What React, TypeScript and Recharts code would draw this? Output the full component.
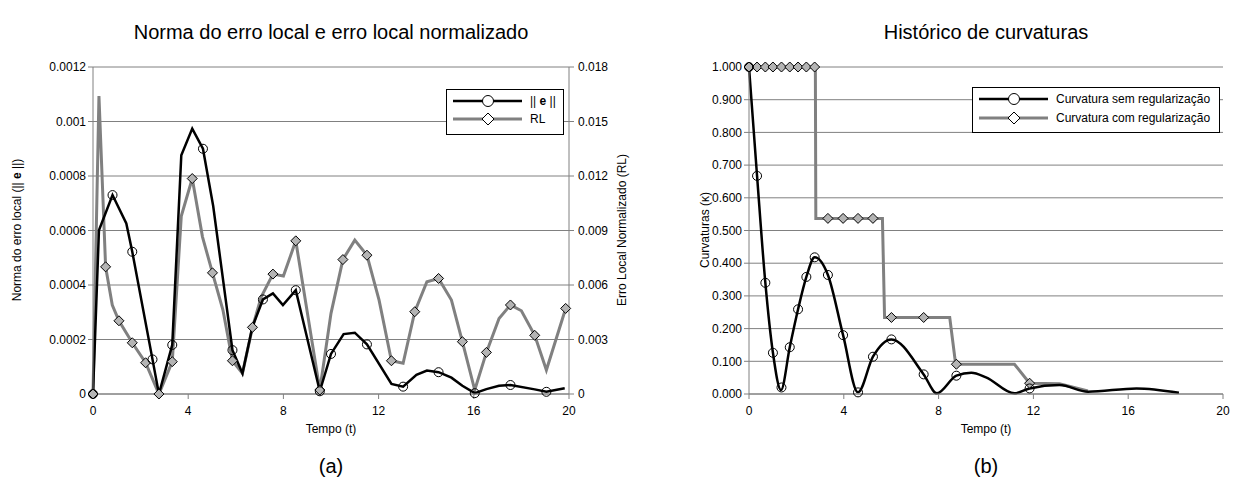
import { CartesianGrid, ComposedChart, Line, XAxis, YAxis } from 'recharts'

const FONT = '"Liberation Sans", Arial, sans-serif'
const AXIS = '#808080'

const timeTicks = [0, 4, 8, 12, 16, 20]
const normTicks = [0, 0.0002, 0.0004, 0.0006, 0.0008, 0.001, 0.0012]
const rlTicks = [0, 0.003, 0.006, 0.009, 0.012, 0.015, 0.018]
const curvTicks = [0, 0.1, 0.2, 0.3, 0.4, 0.5, 0.6, 0.7, 0.8, 0.9, 1]

// ||e|| (left axis)
const normLine = [
  { t: 0, v: 0 }, { t: 0.25, v: 0.000601 }, { t: 0.82, v: 0.00073 }, { t: 1.4, v: 0.000626 },
  { t: 1.65, v: 0.000522 }, { t: 2.5, v: 0.000127 }, { t: 2.77, v: 0 }, { t: 3.33, v: 0.00018 },
  { t: 3.71, v: 0.000876 }, { t: 4.17, v: 0.000974 }, { t: 4.62, v: 0.0009 }, { t: 5.05, v: 0.00069 },
  { t: 5.86, v: 0.000161 }, { t: 6.28, v: 0.000076 }, { t: 6.7, v: 0.000247 }, { t: 7.14, v: 0.000347 },
  { t: 7.56, v: 0.000369 }, { t: 7.98, v: 0.000326 }, { t: 8.52, v: 0.000381 }, { t: 9.53, v: 0.00001 },
  { t: 10.0, v: 0.000147 }, { t: 10.53, v: 0.00022 }, { t: 11.0, v: 0.000225 }, { t: 11.51, v: 0.000182 },
  { t: 12.54, v: 0.000037 }, { t: 13.03, v: 0.000027 }, { t: 13.59, v: 0.00007 }, { t: 14.03, v: 0.000086 },
  { t: 14.52, v: 0.00008 }, { t: 15.06, v: 0.00006 }, { t: 15.52, v: 0.00003 }, { t: 16.04, v: 0.000003 },
  { t: 16.53, v: 0.000018 }, { t: 17.06, v: 0.00003 }, { t: 17.54, v: 0.000033 }, { t: 18.56, v: 0.000017 },
  { t: 19.05, v: 0.000008 }, { t: 19.82, v: 0.000021 },
]
const normMarks = [
  { t: 0, v: 0 }, { t: 0.82, v: 0.00073 }, { t: 1.65, v: 0.000522 }, { t: 2.5, v: 0.000127 },
  { t: 3.33, v: 0.00018 }, { t: 4.62, v: 0.0009 }, { t: 5.86, v: 0.000161 }, { t: 7.14, v: 0.000347 },
  { t: 8.52, v: 0.000381 }, { t: 9.53, v: 0.00001 }, { t: 10.0, v: 0.000147 }, { t: 11.51, v: 0.000182 },
  { t: 13.03, v: 0.000027 }, { t: 14.52, v: 0.00008 }, { t: 16.04, v: 0.000003 }, { t: 17.54, v: 0.000033 },
  { t: 19.05, v: 0.000008 },
]

// RL (right axis)
const rlLine = [
  { t: 0, v: 0 }, { t: 0.25, v: 0.0164 }, { t: 0.53, v: 0.007 }, { t: 0.81, v: 0.0049 },
  { t: 1.09, v: 0.00403 }, { t: 1.65, v: 0.00282 }, { t: 2.21, v: 0.00172 }, { t: 2.77, v: 0 },
  { t: 3.33, v: 0.00178 }, { t: 3.71, v: 0.0098 }, { t: 4.17, v: 0.01186 }, { t: 4.6, v: 0.00865 },
  { t: 5.02, v: 0.00667 }, { t: 5.46, v: 0.00462 }, { t: 5.86, v: 0.00183 }, { t: 6.28, v: 0.00114 },
  { t: 6.7, v: 0.00367 }, { t: 7.07, v: 0.00535 }, { t: 7.56, v: 0.0066 }, { t: 8.0, v: 0.00649 },
  { t: 8.52, v: 0.00843 }, { t: 9.53, v: 0.00022 }, { t: 10.0, v: 0.00444 }, { t: 10.5, v: 0.0074 },
  { t: 11.0, v: 0.00847 }, { t: 11.51, v: 0.00764 }, { t: 12.02, v: 0.00517 }, { t: 12.54, v: 0.00183 },
  { t: 13.03, v: 0.00169 }, { t: 13.52, v: 0.00453 }, { t: 14.03, v: 0.00618 }, { t: 14.52, v: 0.00636 },
  { t: 15.06, v: 0.00517 }, { t: 15.52, v: 0.00288 }, { t: 16.04, v: 0.00022 }, { t: 16.53, v: 0.00229 },
  { t: 17.06, v: 0.00416 }, { t: 17.54, v: 0.0049 }, { t: 18.0, v: 0.00458 }, { t: 18.56, v: 0.00323 },
  { t: 19.05, v: 0.00132 }, { t: 19.86, v: 0.00471 },
]
const rlMarks = [
  { t: 0, v: 0 }, { t: 0.53, v: 0.007 }, { t: 1.09, v: 0.00403 }, { t: 1.65, v: 0.00282 },
  { t: 2.21, v: 0.00172 }, { t: 2.77, v: 0 }, { t: 3.33, v: 0.00178 }, { t: 4.17, v: 0.01186 },
  { t: 5.02, v: 0.00667 }, { t: 5.86, v: 0.00183 }, { t: 6.7, v: 0.00367 }, { t: 7.56, v: 0.0066 },
  { t: 8.52, v: 0.00843 }, { t: 9.53, v: 0.00022 }, { t: 10.5, v: 0.0074 }, { t: 11.51, v: 0.00764 },
  { t: 12.54, v: 0.00183 }, { t: 13.52, v: 0.00453 }, { t: 14.52, v: 0.00636 }, { t: 15.52, v: 0.00288 },
  { t: 16.53, v: 0.00229 }, { t: 17.54, v: 0.0049 }, { t: 18.56, v: 0.00323 }, { t: 19.86, v: 0.00471 },
]

// curvatura sem regularização
const curvNoReg = [
  { t: 0, v: 1 }, { t: 0.34, v: 0.667 }, { t: 0.69, v: 0.34 }, { t: 1.01, v: 0.126 },
  { t: 1.35, v: 0.012 }, { t: 1.72, v: 0.143 }, { t: 2.07, v: 0.259 }, { t: 2.42, v: 0.358 },
  { t: 2.77, v: 0.418 }, { t: 3.33, v: 0.364 }, { t: 3.97, v: 0.18 }, { t: 4.6, v: 0.005 },
  { t: 5.23, v: 0.114 }, { t: 6.01, v: 0.167 }, { t: 7.37, v: 0.06 }, { t: 7.93, v: 0.002 },
  { t: 8.75, v: 0.056 }, { t: 9.38, v: 0.065 }, { t: 10.0, v: 0.051 }, { t: 11.2, v: 0.002 },
  { t: 11.84, v: 0.017 }, { t: 13.1, v: 0.0275 }, { t: 14.3, v: 0.007 }, { t: 16.35, v: 0.017 },
  { t: 18.14, v: 0.004 },
]
const curvNoRegMarks = [
  { t: 0, v: 1 }, { t: 0.34, v: 0.667 }, { t: 0.69, v: 0.34 }, { t: 1.01, v: 0.126 },
  { t: 1.37, v: 0.02 }, { t: 1.72, v: 0.143 }, { t: 2.07, v: 0.259 }, { t: 2.42, v: 0.358 },
  { t: 2.77, v: 0.418 }, { t: 3.33, v: 0.364 }, { t: 3.97, v: 0.18 }, { t: 4.6, v: 0.005 },
  { t: 5.23, v: 0.114 }, { t: 6.01, v: 0.167 }, { t: 7.37, v: 0.06 }, { t: 8.75, v: 0.056 },
  { t: 11.84, v: 0.017 },
]

// curvatura com regularização
const curvReg = [
  { t: 0, v: 1 }, { t: 2.8, v: 1 }, { t: 2.82, v: 0.537 }, { t: 5.63, v: 0.537 },
  { t: 5.72, v: 0.234 }, { t: 8.47, v: 0.234 }, { t: 8.72, v: 0.091 }, { t: 11.2, v: 0.091 },
  { t: 11.84, v: 0.033 }, { t: 13.1, v: 0.031 }, { t: 14.3, v: 0.009 },
]
const curvRegMarks = [
  { t: 0, v: 1 }, { t: 0.34, v: 1 }, { t: 0.69, v: 1 }, { t: 1.01, v: 1 }, { t: 1.37, v: 1 },
  { t: 1.72, v: 1 }, { t: 2.07, v: 1 }, { t: 2.42, v: 1 }, { t: 2.77, v: 1 },
  { t: 3.33, v: 0.537 }, { t: 3.97, v: 0.537 }, { t: 4.6, v: 0.537 }, { t: 5.23, v: 0.537 },
  { t: 6.01, v: 0.234 }, { t: 7.37, v: 0.234 }, { t: 8.75, v: 0.091 }, { t: 11.84, v: 0.033 },
]

const circleDot = (p: any) =>
  p.cx == null ? <g key={`c${p.index}`} /> : (
    <circle key={`c${p.index}`} cx={p.cx} cy={p.cy} r={4.5} fill="none" stroke="#000" strokeWidth={1} />
  )

const diamondDot = (p: any) =>
  p.cx == null ? <g key={`d${p.index}`} /> : (
    <path
      key={`d${p.index}`}
      d={`M${p.cx},${p.cy - 5}L${p.cx + 5},${p.cy}L${p.cx},${p.cy + 5}L${p.cx - 5},${p.cy}Z`}
      fill="#b4b4b4"
      stroke="#000"
      strokeWidth={1}
    />
  )

const tickStyle = { fontSize: 12, fill: '#000', fontFamily: FONT }

function NormChart() {
  return (
    <ComposedChart width={640} height={482} margin={{ top: 67, right: 0, bottom: 58, left: 0 }}>
      <CartesianGrid yAxisId="left" vertical={false} stroke={AXIS} strokeWidth={1} />
      <XAxis
        type="number"
        dataKey="t"
        domain={[0, 20]}
        ticks={timeTicks}
        interval={0}
        tick={tickStyle}
        tickSize={5}
        tickMargin={7}
        stroke={AXIS}
        height={30}
      />
      <YAxis
        yAxisId="left"
        domain={[0, 0.0012]}
        ticks={normTicks}
        interval={0}
        width={93}
        tick={tickStyle}
        tickSize={5}
        tickMargin={2}
        stroke={AXIS}
        tickFormatter={(v) => String(v)}
      />
      <YAxis
        yAxisId="right"
        orientation="right"
        domain={[0, 0.018]}
        ticks={rlTicks}
        interval={0}
        width={71}
        tick={tickStyle}
        tickSize={5}
        tickMargin={4}
        stroke={AXIS}
        tickFormatter={(v) => String(v)}
      />
      <Line yAxisId="right" data={rlLine} dataKey="v" type="linear" stroke="#808080" strokeWidth={3} dot={false} activeDot={false} isAnimationActive={false} />
      <Line yAxisId="left" data={normLine} dataKey="v" type="linear" stroke="#000" strokeWidth={2.5} dot={false} activeDot={false} isAnimationActive={false} />
      <Line yAxisId="right" data={rlMarks} dataKey="v" stroke="none" dot={diamondDot} activeDot={false} isAnimationActive={false} />
      <Line yAxisId="left" data={normMarks} dataKey="v" stroke="none" dot={circleDot} activeDot={false} isAnimationActive={false} />
    </ComposedChart>
  )
}

function CurvChart() {
  return (
    <ComposedChart width={593} height={482} margin={{ top: 67, right: 10, bottom: 58, left: 0 }}>
      <CartesianGrid vertical={false} stroke={AXIS} strokeWidth={1} />
      <XAxis
        type="number"
        dataKey="t"
        domain={[0, 20]}
        ticks={timeTicks}
        interval={0}
        tick={tickStyle}
        tickSize={5}
        tickMargin={7}
        stroke={AXIS}
        height={30}
      />
      <YAxis
        domain={[0, 1]}
        ticks={curvTicks}
        interval={0}
        width={109}
        tick={tickStyle}
        tickSize={5}
        tickMargin={2}
        stroke={AXIS}
        tickFormatter={(v) => Number(v).toFixed(3)}
      />
      <Line data={curvReg} dataKey="v" type="linear" stroke="#808080" strokeWidth={3} dot={false} activeDot={false} isAnimationActive={false} />
      <Line data={curvNoReg} dataKey="v" type="monotone" stroke="#000" strokeWidth={2.5} dot={false} activeDot={false} isAnimationActive={false} />
      <Line data={curvRegMarks} dataKey="v" stroke="none" dot={diamondDot} activeDot={false} isAnimationActive={false} />
      <Line data={curvNoRegMarks} dataKey="v" stroke="none" dot={circleDot} activeDot={false} isAnimationActive={false} />
    </ComposedChart>
  )
}

function LegendRow({ y, color, circle, children }: { y: number; color: string; circle: boolean; children: any }) {
  return (
    <g>
      <line x1={7} x2={76} y1={y} y2={y} stroke={color} strokeWidth={circle ? 2.5 : 3} />
      {circle ? (
        <circle cx={42} cy={y} r={5.5} fill="#fff" stroke="#000" strokeWidth={1} />
      ) : (
        <path d={`M42,${y - 6}L48,${y}L42,${y + 6}L36,${y}Z`} fill="#fff" stroke="#000" strokeWidth={1} />
      )}
      <text x={84} y={y + 4} fontSize={12} fontFamily={FONT} fill="#000">
        {children}
      </text>
    </g>
  )
}

export default function App() {
  return (
    <div style={{ position: 'absolute', left: 0, top: 0, width: 1233, height: 482, background: '#fff', fontFamily: FONT }}>
      <div style={{ position: 'absolute', left: 0, top: 0 }}>
        <NormChart />
      </div>
      <div style={{ position: 'absolute', left: 640, top: 0 }}>
        <CurvChart />
      </div>
      <svg width={1233} height={482} style={{ position: 'absolute', left: 0, top: 0, pointerEvents: 'none' }}>
        <g fontFamily={FONT} fill="#000" textAnchor="middle">
          <text x={331} y={39} fontSize={20}>Norma do erro local e erro local normalizado</text>
          <text x={986} y={39} fontSize={20}>Histórico de curvaturas</text>
          <text x={331} y={433} fontSize={12}>Tempo (t)</text>
          <text x={986} y={433} fontSize={12}>Tempo (t)</text>
          <text x={331} y={473} fontSize={20}>(a)</text>
          <text x={986} y={473} fontSize={20}>(b)</text>
          <text transform="translate(21,230) rotate(-90)" fontSize={12}>
            Norma do erro local (|| <tspan fontWeight="bold">e</tspan> ||)
          </text>
          <text transform="translate(626,230) rotate(-90)" fontSize={12}>Erro Local Normalizado (RL)</text>
          <text transform="translate(709,230) rotate(-90)" fontSize={12}>Curvaturas (κ)</text>
        </g>
        <g transform="translate(446,89)">
          <rect x={0.5} y={0.5} width={117} height={45} fill="#fff" stroke="#000" strokeWidth={1} />
          <LegendRow y={12} color="#000" circle>
            || <tspan fontWeight="bold">e</tspan> ||
          </LegendRow>
          <LegendRow y={30} color="#808080" circle={false}>RL</LegendRow>
        </g>
        <g transform="translate(972,87)">
          <rect x={0.5} y={0.5} width={247} height={45} fill="#fff" stroke="#000" strokeWidth={1} />
          <LegendRow y={12} color="#000" circle>Curvatura sem regularização</LegendRow>
          <LegendRow y={31} color="#808080" circle={false}>Curvatura com regularização</LegendRow>
        </g>
      </svg>
    </div>
  )
}
